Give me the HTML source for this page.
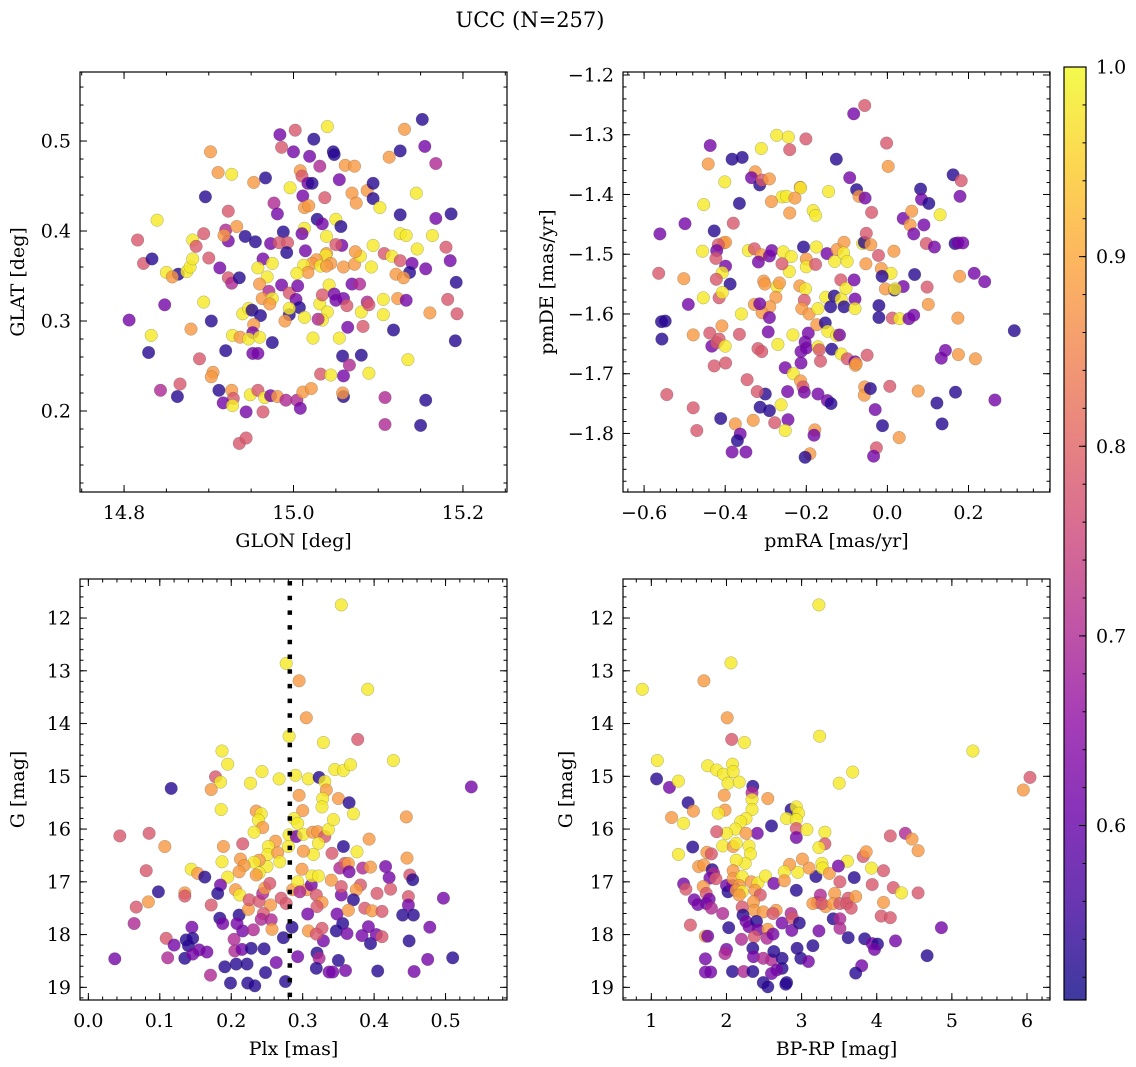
<!DOCTYPE html>
<html><head><meta charset="utf-8">
<style>
html,body{margin:0;padding:0;background:#fff;}
svg{display:block;font-family:"DejaVu Serif","Liberation Serif",serif;}
</style></head>
<body>
<svg id="fig" width="1136" height="1067" viewBox="0 0 1136 1067" xmlns="http://www.w3.org/2000/svg">
<defs>
<linearGradient id="cbgrad" x1="0" y1="1" x2="0" y2="0">
<stop offset="0" stop-color="#0d0887"/><stop offset="0.1" stop-color="#41049d"/><stop offset="0.2" stop-color="#6a00a8"/><stop offset="0.3" stop-color="#8f0da4"/><stop offset="0.4" stop-color="#b12a90"/><stop offset="0.5" stop-color="#cc4778"/><stop offset="0.6" stop-color="#e16462"/><stop offset="0.7" stop-color="#f2844b"/><stop offset="0.8" stop-color="#fca636"/><stop offset="0.9" stop-color="#fcce25"/><stop offset="1" stop-color="#f0f921"/>
</linearGradient>
</defs>
<text x="530" y="27" font-size="21" text-anchor="middle">UCC (N=257)</text>
</svg>
<script>
// ---------- Panel 1: GLON vs GLAT ----------
const glon=[15.152,15.002,14.984,15.040,15.024,14.986,15.000,15.019,15.047,15.048,14.902,15.131,15.126,15.155,15.113,15.168,15.031,15.061,15.072,14.911,14.927,14.953,14.967,15.008,15.010,15.017,15.022,15.054,14.996,15.037,15.011,15.013,15.018,14.977,14.981,14.923,14.896,15.069,15.074,15.087,15.094,15.094,15.102,15.145,15.126,15.168,15.186,14.839,14.816,14.823,14.833,14.850,14.864,14.857,14.874,14.878,14.881,14.881,14.885,14.894,14.900,14.920,14.923,14.918,14.933,14.943,14.955,14.973,14.988,14.983,14.993,14.992,15.013,15.010,15.014,15.028,15.034,15.050,15.056,15.039,15.057,15.050,15.039,15.038,15.044,15.027,15.022,15.012,15.017,15.004,15.032,15.039,15.059,15.072,15.079,15.073,15.094,15.092,15.107,15.116,15.126,15.126,15.133,15.146,15.164,15.180,15.185,15.140,15.156,15.137,15.121,15.130,15.192,14.913,14.923,14.927,14.936,14.964,14.975,14.958,14.969,14.960,14.971,14.963,14.975,14.972,14.986,14.995,15.005,15.003,15.007,14.995,14.995,14.990,15.013,15.031,15.040,15.034,15.029,15.042,15.034,15.048,15.050,15.059,15.063,15.069,15.078,15.080,15.087,15.089,15.106,15.106,15.123,15.133,15.161,15.182,15.193,14.806,14.848,14.829,14.832,14.879,14.894,14.903,14.940,14.947,14.951,14.961,14.953,14.952,14.928,14.937,14.947,14.960,14.975,15.023,15.054,15.064,15.082,15.118,15.191,14.920,14.952,14.958,14.889,14.905,14.903,14.843,14.866,14.863,14.912,14.927,14.929,14.917,14.928,14.944,14.964,14.949,14.958,14.966,14.973,14.981,14.991,15.004,15.008,15.011,15.021,15.032,15.044,15.058,15.066,15.059,15.059,15.058,15.080,15.089,15.135,15.108,15.156,15.108,15.150,14.936,14.944];
const glat=[.524,.512,.507,.516,.502,.493,.488,.483,.488,.485,.488,.513,.489,.494,.482,.475,.472,.473,.472,.465,.463,.454,.459,.467,.461,.453,.453,.457,.448,.437,.439,.426,.428,.431,.419,.422,.438,.442,.431,.445,.453,.436,.426,.442,.418,.414,.419,.412,.390,.364,.369,.354,.352,.349,.355,.360,.369,.390,.383,.397,.370,.401,.389,.395,.405,.394,.388,.386,.399,.387,.387,.376,.403,.397,.378,.413,.408,.413,.405,.394,.384,.385,.375,.373,.364,.368,.364,.362,.354,.353,.361,.361,.360,.363,.372,.377,.384,.360,.375,.372,.367,.397,.395,.380,.395,.382,.367,.364,.358,.354,.352,.348,.343,.359,.348,.342,.348,.369,.364,.359,.349,.341,.333,.325,.325,.319,.340,.331,.339,.324,.315,.307,.314,.300,.304,.319,.310,.301,.302,.340,.329,.330,.323,.325,.317,.341,.341,.310,.321,.318,.324,.307,.325,.323,.309,.324,.308,.301,.318,.265,.284,.291,.321,.300,.308,.314,.312,.306,.296,.287,.284,.282,.280,.282,.276,.281,.281,.293,.294,.290,.278,.267,.264,.264,.258,.243,.238,.223,.230,.216,.223,.223,.214,.209,.206,.199,.199,.218,.223,.215,.217,.216,.212,.212,.203,.221,.225,.241,.240,.261,.251,.239,.216,.220,.262,.242,.257,.215,.212,.185,.184,.164,.170];
const c1=[.53,.78,.62,.98,.53,.78,.62,.62,.53,.53,.88,.88,.53,.62,.88,.70,.70,.88,.88,.88,.98,.88,.53,.88,.78,.62,.53,.62,.98,.78,.62,.88,.88,.70,.62,.78,.53,.88,.88,.88,.53,.53,.98,.98,.53,.62,.53,.98,.78,.78,.53,.98,.53,.88,.98,.98,.98,.98,.78,.78,.78,.70,.62,.88,.88,.53,.53,.62,.53,.78,.78,.53,.98,.62,.62,.53,.62,.98,.53,.98,.62,.78,.88,.98,.88,.88,.88,.98,.88,.98,.98,.88,.88,.88,.98,.88,.98,.98,.78,.98,.78,.98,.98,.98,.98,.78,.62,.62,.62,.53,.88,.88,.53,.62,.78,.70,.53,.62,.98,.98,.98,.88,.70,.88,.98,.88,.62,.78,.62,.62,.53,.53,.98,.88,.98,.98,.98,.98,.70,.98,.78,.62,.62,.62,.78,.62,.70,.98,.70,.78,.98,.98,.88,.62,.88,.78,.78,.62,.62,.53,.98,.88,.98,.53,.98,.98,.53,.53,.88,.62,.98,.88,.98,.98,.53,.98,.98,.62,.78,.53,.53,.53,.62,.62,.78,.88,.88,.70,.78,.53,.53,.88,.78,.62,.98,.62,.78,.98,.78,.98,.62,.88,.70,.70,.62,.88,.88,.78,.98,.53,.70,.62,.53,.88,.53,.98,.98,.70,.53,.70,.53,.78,.78];
const p1xTicks=[14.8,15.0,15.2], p1xLabels=["14.8","15.0","15.2"];
const p1yTicks=[0.2,0.3,0.4,0.5], p1yLabels=["0.2","0.3","0.4","0.5"];

// ---------- Panel 2: pmRA vs pmDE ----------
const pmra=[-.083,-.056,-.273,-.244,-.201,-.002,-.437,-.311,-.241,-.442,-.383,-.358,-.126,.002,-.326,-.335,-.315,-.309,-.291,-.401,-.215,-.214,-.093,-.076,-.070,-.055,-.145,-.260,-.249,-.228,-.286,-.453,-.365,-.241,-.183,-.177,-.039,.162,.182,.082,.084,.102,.179,.130,.039,.060,.056,.065,.090,-.499,-.380,-.561,-.427,-.404,-.399,-.417,-.421,-.423,-.456,-.343,-.328,-.311,-.318,-.291,-.285,-.257,-.237,-.242,-.260,-.207,-.200,-.200,-.175,-.177,-.149,-.130,-.124,-.107,-.108,-.099,-.061,-.057,-.052,-.041,-.053,-.022,-.015,.009,.016,-.013,.096,.116,.167,.174,.186,.178,.214,.240,.067,.039,.098,.101,.017,-.005,.019,-.564,-.502,-.399,-.407,-.388,-.422,-.415,-.407,-.454,-.491,-.305,-.302,-.272,-.266,-.216,-.202,-.275,-.290,-.328,-.309,-.315,-.291,-.205,-.211,-.193,-.171,-.152,-.131,-.140,-.114,-.107,-.115,-.102,-.082,-.080,-.080,-.021,-.021,.012,.030,.053,.065,.174,.313,-.557,-.548,-.556,-.479,-.438,-.433,-.421,-.415,-.400,-.365,-.360,-.408,-.319,-.310,-.294,-.270,-.233,-.195,-.203,-.213,-.213,-.200,-.171,-.168,-.174,-.153,-.147,-.125,-.118,-.137,-.114,-.099,-.080,-.079,-.077,-.050,-.165,-.252,-.232,-.214,-.208,-.205,-.246,-.301,-.321,-.314,-.291,-.262,-.171,-.148,-.139,-.245,-.252,-.278,-.331,-.375,-.363,-.370,-.383,-.349,-.411,-.470,-.479,-.544,-.346,-.427,-.399,-.179,-.181,-.191,-.203,-.056,-.057,-.042,-.030,-.012,-.027,-.034,.006,.029,.076,.122,.135,.168,.265,.175,.217,.143,.133];
const pmde=[-1.265,-1.251,-1.301,-1.304,-1.307,-1.314,-1.318,-1.323,-1.325,-1.349,-1.341,-1.338,-1.341,-1.353,-1.362,-1.372,-1.384,-1.376,-1.374,-1.379,-1.388,-1.389,-1.372,-1.392,-1.403,-1.406,-1.395,-1.404,-1.403,-1.406,-1.412,-1.417,-1.415,-1.431,-1.427,-1.435,-1.430,-1.367,-1.377,-1.391,-1.408,-1.415,-1.403,-1.434,-1.440,-1.428,-1.451,-1.466,-1.451,-1.449,-1.448,-1.466,-1.461,-1.481,-1.480,-1.484,-1.494,-1.507,-1.495,-1.494,-1.491,-1.501,-1.513,-1.503,-1.494,-1.496,-1.504,-1.529,-1.516,-1.488,-1.508,-1.521,-1.488,-1.517,-1.499,-1.512,-1.492,-1.480,-1.498,-1.512,-1.482,-1.480,-1.465,-1.484,-1.516,-1.502,-1.524,-1.532,-1.495,-1.537,-1.482,-1.488,-1.482,-1.481,-1.481,-1.537,-1.532,-1.546,-1.534,-1.554,-1.555,-1.584,-1.560,-1.558,-1.558,-1.532,-1.541,-1.520,-1.531,-1.550,-1.542,-1.573,-1.564,-1.573,-1.584,-1.545,-1.550,-1.554,-1.548,-1.553,-1.558,-1.572,-1.588,-1.584,-1.598,-1.583,-1.606,-1.577,-1.591,-1.600,-1.591,-1.572,-1.570,-1.588,-1.575,-1.588,-1.543,-1.557,-1.543,-1.575,-1.591,-1.586,-1.606,-1.607,-1.608,-1.608,-1.602,-1.607,-1.628,-1.613,-1.612,-1.642,-1.635,-1.632,-1.654,-1.648,-1.642,-1.654,-1.634,-1.600,-1.620,-1.658,-1.663,-1.630,-1.651,-1.635,-1.632,-1.647,-1.663,-1.682,-1.657,-1.655,-1.660,-1.618,-1.615,-1.629,-1.636,-1.635,-1.659,-1.667,-1.675,-1.680,-1.686,-1.683,-1.669,-1.679,-1.690,-1.700,-1.712,-1.722,-1.731,-1.730,-1.734,-1.730,-1.756,-1.762,-1.752,-1.734,-1.745,-1.750,-1.777,-1.795,-1.782,-1.778,-1.784,-1.801,-1.812,-1.831,-1.831,-1.775,-1.795,-1.757,-1.735,-1.710,-1.687,-1.682,-1.794,-1.803,-1.834,-1.840,-1.722,-1.736,-1.725,-1.760,-1.787,-1.824,-1.838,-1.721,-1.807,-1.729,-1.749,-1.784,-1.731,-1.744,-1.668,-1.675,-1.661,-1.674];
const c2=[.62,.78,.98,.98,.78,.78,.62,.98,.78,.88,.53,.53,.53,.88,.88,.62,.53,.78,.88,.98,.88,.98,.62,.53,.88,.62,.98,.98,.98,.88,.88,.98,.53,.88,.98,.98,.78,.53,.78,.53,.62,.53,.62,.98,.62,.88,.88,.62,.62,.62,.78,.62,.53,.88,.88,.78,.62,.78,.98,.98,.78,.88,.62,.62,.62,.98,.98,.98,.78,.53,.88,.98,.98,.78,.62,.98,.88,.88,.98,.98,.98,.53,.78,.88,.88,.78,.88,.98,.88,.53,.78,.62,.53,.62,.62,.88,.62,.62,.53,.62,.78,.88,.53,.88,.98,.78,.88,.62,.98,.53,.78,.78,.98,.98,.62,.88,.88,.98,.88,.88,.98,.88,.88,.88,.88,.62,.62,.78,.88,.88,.98,.98,.53,.53,.98,.53,.78,.98,.62,.62,.98,.53,.53,.78,.98,.62,.62,.88,.53,.53,.53,.53,.88,.78,.62,.78,.78,.98,.78,.98,.88,.78,.78,.62,.98,.98,.62,.62,.62,.62,.62,.98,.78,.88,.53,.98,.98,.62,.53,.98,.78,.62,.88,.88,.78,.78,.62,.98,.88,.78,.62,.62,.53,.78,.53,.53,.98,.62,.62,.53,.62,.98,.78,.88,.88,.62,.53,.62,.62,.53,.78,.78,.78,.78,.78,.78,.88,.62,.88,.53,.88,.88,.53,.62,.53,.78,.62,.78,.88,.88,.53,.53,.53,.62,.88,.88,.62,.62];
const p2xTicks=[-0.6,-0.4,-0.2,0.0,0.2], p2xLabels=["\u22120.6","\u22120.4","\u22120.2","0.0","0.2"];
const p2yTicks=[-1.8,-1.7,-1.6,-1.5,-1.4,-1.3,-1.2], p2yLabels=["\u22121.8","\u22121.7","\u22121.6","\u22121.5","\u22121.4","\u22121.3","\u22121.2"];

// ---------- Panel 3: Plx vs G ----------
const plx=[.354,.277,.295,.391,.305,.281,.329,.377,.427,.187,.195,.178,.185,.172,.116,.227,.243,.267,.290,.308,.323,.331,.345,.357,.367,.333,.328,.295,.350,.365,.327,.186,.235,.242,.300,.371,.445,.536,.238,.244,.232,.288,.293,.281,.291,.301,.314,.321,.331,.336,.343,.322,.315,.301,.280,.262,.252,.251,.265,.268,.250,.239,.232,.213,.218,.211,.239,.235,.187,.189,.216,.195,.144,.153,.163,.135,.135,.098,.084,.067,.081,.085,.044,.107,.064,.109,.037,.111,.120,.137,.140,.145,.146,.135,.146,.155,.166,.171,.172,.185,.181,.184,.188,.191,.199,.204,.205,.207,.215,.216,.222,.223,.233,.228,.231,.211,.208,.206,.212,.224,.225,.239,.244,.247,.254,.255,.245,.242,.256,.257,.246,.248,.263,.273,.276,.285,.293,.270,.277,.286,.293,.299,.306,.296,.312,.313,.322,.319,.327,.320,.307,.308,.327,.329,.319,.320,.323,.319,.337,.342,.350,.360,.347,.356,.362,.348,.354,.354,.340,.352,.359,.364,.365,.357,.341,.376,.393,.384,.395,.381,.375,.371,.364,.387,.397,.404,.411,.416,.421,.423,.446,.450,.454,.448,.448,.440,.455,.497,.478,.449,.392,.383,.395,.403,.411,.405,.475,.510,.456];
const g3=[11.75,12.86,13.19,13.35,13.89,14.24,14.36,14.30,14.70,14.52,14.77,15.01,15.11,15.25,15.23,15.13,14.91,15.05,14.98,15.05,15.02,15.10,14.87,14.89,14.78,15.26,15.42,15.36,15.42,15.50,15.58,15.63,15.66,15.71,15.65,15.71,15.77,15.20,15.83,15.97,16.06,15.80,15.89,16.11,16.14,16.10,16.06,16.05,16.14,16.01,15.82,16.27,16.48,16.42,16.33,16.23,16.33,16.48,16.45,16.62,16.71,16.59,16.63,16.57,16.69,16.81,16.83,16.87,16.62,16.33,16.28,16.91,16.76,16.84,16.91,17.21,17.27,17.19,17.38,17.48,16.79,16.08,16.13,16.33,17.79,18.07,18.46,18.44,18.20,18.10,18.21,17.86,18.07,18.45,18.37,18.29,18.33,18.77,17.44,17.06,17.22,17.69,17.79,18.61,18.92,18.09,18.31,18.56,18.28,17.93,18.56,18.92,18.97,18.26,17.91,17.63,17.79,17.15,17.25,17.52,17.34,17.37,17.22,17.12,17.03,17.44,17.60,17.71,17.72,17.90,18.27,18.72,18.53,18.06,18.89,17.86,18.42,17.31,17.41,17.15,17.00,16.76,17.15,17.19,17.06,16.89,16.89,17.25,17.39,17.47,17.61,17.93,17.88,18.12,17.99,18.35,18.45,18.64,18.71,18.71,18.49,18.68,17.93,17.79,17.98,17.61,17.25,17.09,16.97,16.74,16.65,16.65,16.81,16.33,16.46,16.43,16.19,16.74,16.72,17.06,17.15,17.34,17.54,17.50,17.55,17.22,17.56,16.71,16.92,17.14,16.55,16.87,16.96,17.28,17.44,17.63,17.63,17.31,17.86,18.12,17.85,18.02,18.17,18.00,18.04,18.69,18.47,18.44,18.70];
const c3=[.98,.98,.88,.98,.88,.98,.98,.78,.98,.98,.98,.78,.98,.88,.53,.98,.98,.98,.98,.98,.53,.98,.98,.98,.98,.88,.98,.88,.88,.53,.98,.98,.88,.98,.88,.98,.88,.62,.98,.88,.98,.98,.98,.98,.62,.98,.88,.88,.78,.98,.98,.98,.98,.88,.98,.88,.98,.98,.88,.98,.98,.88,.98,.88,.88,.88,.98,.88,.98,.88,.78,.98,.98,.88,.53,.88,.78,.53,.88,.78,.78,.78,.78,.88,.70,.78,.62,.70,.62,.53,.53,.62,.53,.53,.62,.62,.62,.70,.78,.62,.53,.53,.62,.53,.53,.70,.70,.53,.62,.62,.53,.53,.53,.53,.70,.53,.62,.88,.98,.88,.78,.78,.70,.88,.78,.88,.78,.70,.70,.88,.53,.53,.62,.53,.53,.53,.62,.78,.78,.88,.98,.88,.88,.70,.62,.98,.98,.78,.88,.78,.62,.88,.78,.62,.78,.53,.70,.53,.62,.62,.53,.62,.53,.53,.62,.62,.62,.78,.88,.70,.78,.88,.62,.53,.78,.98,.88,.70,.88,.78,.88,.53,.88,.78,.88,.78,.78,.62,.62,.78,.88,.78,.53,.78,.62,.53,.53,.62,.62,.53,.62,.62,.53,.62,.78,.53,.62,.53,.62];
const p3xTicks=[0.0,0.1,0.2,0.3,0.4,0.5], p3xLabels=["0.0","0.1","0.2","0.3","0.4","0.5"];
const p3yTicks=[12,13,14,15,16,17,18,19], p3yLabels=["12","13","14","15","16","17","18","19"];
const plxRef=[0.282];

// ---------- Panel 4: BP-RP vs G ----------
const bprp=[3.23,2.06,0.88,1.70,2.01,3.24,2.07,2.24,5.28,1.08,1.07,1.24,1.36,1.75,1.87,1.96,2.08,2.09,2.02,2.17,3.50,3.68,6.04,5.95,2.35,2.34,2.34,2.55,1.97,1.98,1.89,1.49,1.56,1.27,1.43,2.34,2.26,2.19,2.12,2.00,1.95,1.87,2.09,2.13,2.30,2.32,2.25,2.13,2.41,2.26,2.60,2.86,2.80,2.93,2.96,2.93,2.93,2.93,3.07,3.31,3.31,3.23,1.55,1.36,1.74,1.80,1.63,1.70,1.81,1.83,1.78,1.86,1.43,1.46,1.69,1.73,1.57,1.62,1.73,1.77,1.80,1.95,2.00,2.02,2.08,2.09,2.09,2.21,2.17,2.13,2.21,2.17,2.33,2.42,2.52,2.38,2.45,2.36,2.37,2.49,2.21,2.22,2.26,2.30,2.40,2.42,2.37,2.55,2.54,2.62,2.66,2.62,2.63,2.74,2.86,2.88,2.87,2.97,2.93,2.20,2.03,2.00,1.98,1.72,1.75,1.52,1.72,1.72,1.79,2.08,2.23,2.35,2.35,2.36,2.49,2.60,2.63,2.74,2.74,2.67,2.60,2.49,2.55,2.80,2.79,2.94,2.99,3.09,3.15,3.23,3.19,3.21,3.15,3.25,3.32,3.27,3.27,3.28,3.37,3.10,3.01,2.95,2.84,2.77,2.77,3.61,3.49,3.51,3.70,3.44,3.42,3.51,3.62,3.60,3.66,3.72,3.42,3.51,3.51,3.62,3.84,3.94,4.01,3.97,3.80,3.72,4.25,4.67,4.86,3.82,3.86,3.94,3.93,4.09,4.09,4.06,4.18,4.22,4.33,4.55,4.18,4.38,4.47,4.55];
const g4=[11.75,12.85,13.35,13.19,13.89,14.24,14.30,14.36,14.52,14.70,15.05,15.21,15.09,14.80,14.88,14.96,14.77,14.91,15.13,15.11,15.13,14.92,15.02,15.26,15.19,15.31,15.44,15.42,15.36,15.64,15.70,15.50,15.66,15.78,15.89,15.63,15.80,15.86,16.00,16.08,16.32,16.05,16.33,16.27,16.32,16.47,16.65,16.59,16.08,16.08,15.94,15.63,15.80,15.58,15.70,15.82,15.99,16.16,16.01,16.06,16.28,16.35,16.34,16.48,16.44,16.47,16.71,16.68,16.77,16.84,16.93,16.94,17.04,17.14,17.09,17.22,17.34,17.43,17.41,17.33,17.50,17.60,17.07,17.19,17.07,16.79,16.94,16.90,17.07,17.16,17.19,17.25,17.00,17.02,16.89,17.16,17.25,17.38,17.54,17.57,17.48,17.63,17.75,17.85,17.75,17.91,18.04,17.90,18.07,17.99,17.54,17.60,17.03,17.78,17.60,17.69,17.92,17.78,17.16,18.09,17.87,18.28,18.36,18.03,18.03,17.82,18.46,18.71,18.71,18.70,18.70,18.70,18.26,18.42,18.45,18.48,18.32,18.45,18.64,18.67,18.74,18.91,18.99,18.91,18.94,18.26,18.45,18.51,18.21,17.93,16.90,17.39,17.41,17.25,17.47,17.41,16.65,16.74,16.84,16.74,16.57,16.82,16.67,16.81,16.98,16.61,16.70,17.00,16.92,17.22,17.41,17.41,17.31,17.41,17.50,17.28,17.70,17.70,17.88,18.06,18.08,18.17,18.18,18.28,18.59,18.73,18.12,18.40,17.87,16.52,16.43,17.05,16.74,16.79,17.39,17.65,17.68,17.11,17.21,17.21,16.13,16.08,16.19,16.41];
const c4=[.98,.98,.98,.88,.88,.98,.78,.98,.98,.98,.53,.62,.98,.98,.98,.98,.98,.98,.98,.98,.98,.98,.78,.88,.53,.70,.98,.88,.88,.88,.98,.53,.88,.88,.98,.98,.98,.98,.98,.98,.98,.78,.88,.98,.98,.98,.98,.98,.62,.88,.53,.53,.98,.98,.98,.98,.78,.62,.98,.98,.78,.98,.53,.98,.88,.78,.88,.88,.53,.70,.62,.78,.62,.78,.88,.78,.62,.62,.62,.62,.70,.70,.62,.53,.62,.88,.88,.98,.88,.88,.98,.88,.88,.98,.98,.88,.78,.88,.88,.88,.78,.53,.62,.62,.53,.62,.78,.88,.70,.62,.88,.78,.62,.62,.70,.78,.62,.53,.53,.70,.53,.62,.70,.88,.62,.78,.62,.62,.62,.53,.70,.53,.53,.62,.70,.70,.53,.53,.53,.62,.62,.53,.53,.53,.53,.53,.53,.62,.53,.62,.53,.78,.88,.70,.88,.78,.98,.98,.88,.88,.88,.98,.88,.98,.88,.98,.62,.78,.53,.88,.88,.78,.78,.78,.78,.88,.53,.70,.70,.53,.53,.62,.53,.62,.62,.53,.62,.53,.62,.78,.88,.78,.98,.78,.88,.78,.78,.78,.98,.78,.78,.70,.88,.88];
const p4xTicks=[1,2,3,4,5,6], p4xLabels=["1","2","3","4","5","6"];
const p4yTicks=[12,13,14,15,16,17,18,19], p4yLabels=["12","13","14","15","16","17","18","19"];

// ---------- Colorbar ----------
const cbTicks=[0.6,0.7,0.8,0.9,1.0], cbLabels=["0.6","0.7","0.8","0.9","1.0"];
const cbMin=0.508, cbMax=1.0;

const NS="http://www.w3.org/2000/svg";
const FS=19;
const svg=document.getElementById('fig');
const plasmaStops=[[13,8,135],[65,4,157],[106,0,168],[143,13,164],[177,42,144],[204,71,120],[225,100,98],[242,132,75],[252,166,54],[252,206,37],[240,249,33]];
function plasma(t){t=Math.max(0,Math.min(1,t));const s=t*10;const i=Math.min(9,Math.floor(s));const f=s-i;const a=plasmaStops[i],b=plasmaStops[i+1];
return 'rgb('+[0,1,2].map(k=>Math.round(a[k]+(b[k]-a[k])*f)).join(',')+')';}
function mk(tag,attrs,parent){const e=document.createElementNS(NS,tag);for(const k in attrs)e.setAttribute(k,attrs[k]);(parent||svg).appendChild(e);return e;}

function panel(cfg){
  const g=mk('g',{});
  
  
  const sx=v=>cfg.L+(v-cfg.xl[0])/(cfg.xl[1]-cfg.xl[0])*(cfg.R-cfg.L);
  const sy=cfg.inv? (v=>cfg.T+(v-cfg.yl[0])/(cfg.yl[1]-cfg.yl[0])*(cfg.B-cfg.T)) : (v=>cfg.B-(v-cfg.yl[0])/(cfg.yl[1]-cfg.yl[0])*(cfg.B-cfg.T));
  const cid='clip-'+cfg.name;
  const cp=mk('clipPath',{id:cid},g);mk('rect',{x:cfg.L,y:cfg.T,width:cfg.R-cfg.L,height:cfg.B-cfg.T},cp);
  const pts=mk('g',{'clip-path':'url(#'+cid+')'},g);
  
  
  const n=Math.min(cfg.x.length,cfg.y.length,cfg.c.length);
  for(let i=0;i<n;i++){
    const c=mk('circle',{cx:sx(cfg.x[i]).toFixed(1),cy:sy(cfg.y[i]).toFixed(1),r:6.3,fill:plasma((cfg.c[i]-cbMin)/(cbMax-cbMin)),'fill-opacity':0.8,stroke:'#555','stroke-opacity':0.45,'stroke-width':0.5},pts);
    
    
  }
  if(cfg.vline){
    const l=mk('line',{x1:sx(cfg.vline[0]),x2:sx(cfg.vline[0]),y1:cfg.T+2,y2:cfg.B,stroke:'#000','stroke-width':4.5,'stroke-dasharray':'4.5 10.2'},g);
    
    
  }
  const tk=mk('g',{stroke:'#000','stroke-width':1},g);
  
  
  function xt(v,len){const x=sx(v);if(x<cfg.L-0.5||x>cfg.R+0.5)return;mk('line',{x1:x,x2:x,y1:cfg.B,y2:cfg.B-len},tk);mk('line',{x1:x,x2:x,y1:cfg.T,y2:cfg.T+len},tk);}
  function yt(v,len){const y=sy(v);if(y<cfg.T-0.5||y>cfg.B+0.5)return;mk('line',{x1:cfg.L,x2:cfg.L+len,y1:y,y2:y},tk);mk('line',{x1:cfg.R,x2:cfg.R-len,y1:y,y2:y},tk);}
  const xa=Math.min(cfg.xl[0],cfg.xl[1]),xb=Math.max(cfg.xl[0],cfg.xl[1]);
  for(let k=Math.ceil(xa/cfg.xm);k*cfg.xm<=xb;k++)xt(k*cfg.xm,3.5);
  const ya=Math.min(cfg.yl[0],cfg.yl[1]),yb=Math.max(cfg.yl[0],cfg.yl[1]);
  for(let k=Math.ceil(ya/cfg.ym);k*cfg.ym<=yb;k++)yt(k*cfg.ym,3.5);
  cfg.xt.forEach((v,i)=>{xt(v,7);const t=mk('text',{x:sx(v),y:cfg.B+27,'font-size':FS,'text-anchor':'middle'},g);t.textContent=cfg.xlab[i];
    
    });
  cfg.yt.forEach((v,i)=>{yt(v,7);const t=mk('text',{x:cfg.L-9,y:sy(v)+6.5,'font-size':FS,'text-anchor':'end'},g);t.textContent=cfg.ylab[i];
    
    });
  const fr=mk('rect',{x:cfg.L,y:cfg.T,width:cfg.R-cfg.L,height:cfg.B-cfg.T,fill:'none',stroke:'#000','stroke-width':1.2},g);
  
  
  const xl=mk('text',{x:(cfg.L+cfg.R)/2,y:cfg.B+55,'font-size':FS,'text-anchor':'middle'},g);xl.textContent=cfg.xtitle;
  
  
  const yx=cfg.ytx, yy=(cfg.T+cfg.B)/2;
  const yl=mk('text',{x:yx,y:yy,'font-size':FS,'text-anchor':'middle',transform:'rotate(-90 '+yx+' '+yy+')'},g);yl.textContent=cfg.ytitle;
  
  
}

panel({name:'glon-glat-panel',L:80,R:507,T:72,B:492,xl:[14.748,15.252],yl:[0.110,0.5767],x:glon,y:glat,c:c1,xm:0.05,ym:0.02,xt:p1xTicks,xlab:p1xLabels,yt:p1yTicks,ylab:p1yLabels,xtitle:'GLON [deg]',ytitle:'GLAT [deg]',ytx:24});
panel({name:'pm-panel',L:623,R:1050,T:72,B:492,xl:[-0.652,0.401],yl:[-1.898,-1.195],x:pmra,y:pmde,c:c2,xm:0.04,ym:0.02,xt:p2xTicks,xlab:p2xLabels,yt:p2yTicks,ylab:p2yLabels,xtitle:'pmRA [mas/yr]',ytitle:'pmDE [mas/yr]',ytx:553});
panel({name:'plx-g-panel',L:80,R:507,T:579,B:1000,xl:[-0.0117,0.586],yl:[11.26,19.24],inv:true,x:plx,y:g3,c:c3,xm:0.02,ym:0.2,xt:p3xTicks,xlab:p3xLabels,yt:p3yTicks,ylab:p3yLabels,xtitle:'Plx [mas]',ytitle:'G [mag]',ytx:24,vline:plxRef});
panel({name:'cmd-panel',L:623,R:1050,T:579,B:1000,xl:[0.623,6.306],yl:[11.26,19.24],inv:true,x:bprp,y:g4,c:c4,xm:0.2,ym:0.2,xt:p4xTicks,xlab:p4xLabels,yt:p4yTicks,ylab:p4yLabels,xtitle:'BP-RP [mag]',ytitle:'G [mag]',ytx:572});

(function(){
  const L=1064,R=1086,T=67,B=1000;
  const g=mk('g',{});
  
  
  mk('rect',{x:L,y:T,width:R-L,height:B-T,fill:'url(#cbgrad)','fill-opacity':0.8},g);
  const sy=v=>B-(v-cbMin)/(cbMax-cbMin)*(B-T);
  for(let k=Math.ceil(cbMin/0.02);k*0.02<=cbMax+1e-9;k++){const y=sy(k*0.02);mk('line',{x1:R,x2:R-3.5,y1:y,y2:y,stroke:'#000','stroke-width':1},g);}
  cbTicks.forEach((v,i)=>{const y=sy(v);mk('line',{x1:R,x2:R-7,y1:y,y2:y,stroke:'#000','stroke-width':1},g);
    const t=mk('text',{x:R+10,y:y+6.5,'font-size':FS},g);t.textContent=cbLabels[i];
    
    });
  mk('rect',{x:L,y:T,width:R-L,height:B-T,fill:'none',stroke:'#000','stroke-width':1.2},g);
})();
</script>
</body></html>
